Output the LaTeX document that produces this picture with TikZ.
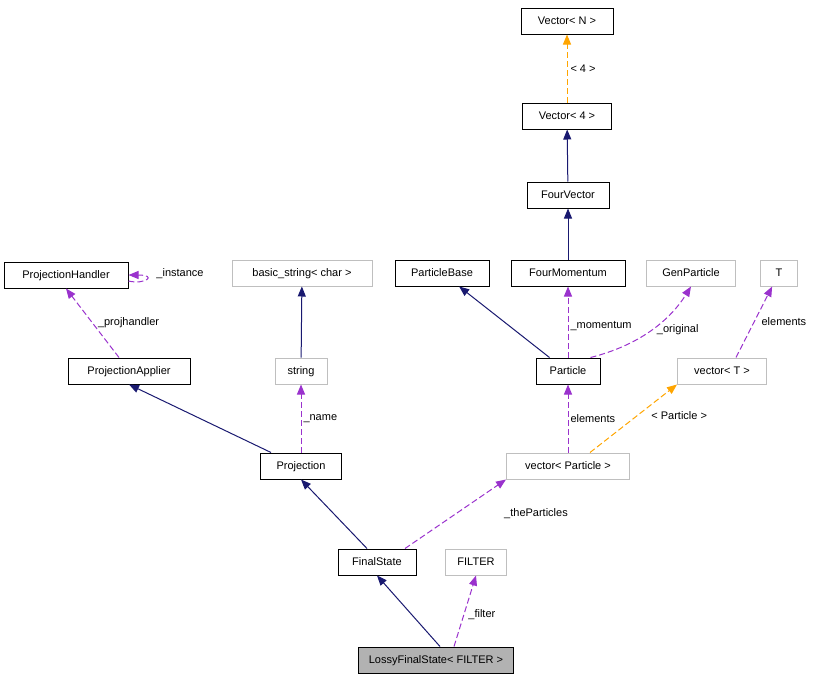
\documentclass[tikz,border=0pt]{standalone}
\usepackage{fontspec}
\setmainfont{Liberation Sans}
\usetikzlibrary{arrows.meta}
\definecolor{navy}{HTML}{191970}
\definecolor{purp}{HTML}{9A32CD}
\definecolor{orng}{HTML}{FFA500}
\definecolor{gbord}{HTML}{BFBFBF}
\begin{document}
\begin{tikzpicture}[x=1pt,y=-1pt,
  every node/.style={font=\fontsize{11}{13}\selectfont},
  cls/.style={draw=black,minimum height=26pt,inner xsep=6pt,text height=8pt,text depth=1pt,line width=1pt},
  ext/.style={draw=gbord,minimum height=26pt,inner xsep=6pt,text height=8pt,text depth=1pt,line width=1pt},
  inh/.style={draw=navy,line width=1pt,-{Triangle[length=10pt,width=8pt,fill=navy]}},
  use/.style={draw=purp,dash pattern=on 6pt off 3pt,line width=1pt,-{Triangle[length=10pt,width=8pt,fill=purp]}},
  tpl/.style={draw=orng,dash pattern=on 6pt off 3pt,line width=1pt,-{Triangle[length=10pt,width=8pt,fill=orng]}},
  lbl/.style={fill=none,inner sep=1pt}]
\useasboundingbox (0,0) rectangle (819,680);
\node[cls,minimum width=92pt] (vn) at (567,21) {Vector< N >};
\node[cls,minimum width=89pt] (v4) at (567,116) {Vector< 4 >};
\node[cls,minimum width=82pt] (fv) at (568,195) {FourVector};
\node[cls,minimum width=114pt] (fm) at (568,273) {FourMomentum};
\node[cls,minimum width=94pt] (pb) at (442,273) {ParticleBase};
\node[ext,minimum width=89pt] (gp) at (691,273) {GenParticle};
\node[ext,minimum width=37pt] (t) at (779,273) {T};
\node[cls,minimum width=124pt] (ph) at (66,275) {ProjectionHandler};
\node[ext,minimum width=140pt] (bs) at (302,273) {basic\_string< char >};
\node[cls,minimum width=122pt] (pa) at (129,371) {ProjectionApplier};
\node[ext,minimum width=52pt] (str) at (301,371) {string};
\node[cls,minimum width=64pt] (p) at (568,371) {Particle};
\node[ext,minimum width=89pt] (vt) at (722,371) {vector< T >};
\node[cls,minimum width=81pt] (pr) at (301,466) {Projection};
\node[ext,minimum width=123pt] (vp) at (568,466) {vector< Particle >};
\node[cls,minimum width=78pt] (fs) at (377,562) {FinalState};
\node[ext,minimum width=61pt] (fi) at (476,562) {FILTER};
\node[cls,fill=black!30,minimum width=155pt] (lfs) at (436,660) {LossyFinalState< FILTER >};

\draw[tpl] (v4) -- node[lbl,right,xshift=2pt] {< 4 >} (vn);
\draw[inh] (fv) -- (v4);
\draw[inh] (fm) -- (fv);
\draw[use] (p) -- node[lbl,right,xshift=1pt,pos=0.45] {\_momentum} (fm);
\draw[inh] (p.north west) ++(14,0) -- (pb);
\draw[use] (p.north east) ++(-10,0) .. controls (640,345) and (670,320) .. node[lbl,right,pos=0.5,xshift=4pt] {\_original} (gp.south);
\draw[use] (vt.north) ++(14,0) -- node[lbl,right,xshift=6pt] {elements} (t);
\draw[use] (vp) -- node[lbl,right,xshift=1pt,pos=0.5] {elements} (p);
\draw[tpl] (vp.north east) ++(-40,0) -- node[lbl,right,xshift=12pt,pos=0.55] {< Particle >} (vt.south west);
\draw[use] (ph.east) ++(0,6) .. controls (145,285) and (158,275) .. (ph.east);
\node[lbl] (inst) at (180,274) {\_instance};
\draw[use] (pa.north) ++(-10,0) -- node[lbl,right,xshift=4pt] {\_projhandler} (ph.south);
\draw[inh] (pr.north) ++(-30,0) -- (pa.south);
\draw[inh] (str) -- (bs);
\draw[use] (pr) -- node[lbl,right,xshift=1pt] {\_name} (str);
\draw[inh] (fs.north) ++(-10,0) -- (pr.south);
\draw[use] (fs.north) ++(28,0) -- (vp.south west);
\node[lbl] (tp) at (536,514) {\_theParticles};
\draw[inh] (lfs.north) ++(4,0) -- (fs.south);
\draw[use] (lfs.north) ++(18,0) -- node[lbl,right,xshift=3pt,pos=0.45] {\_filter} (fi.south);
\end{tikzpicture}
\end{document}
